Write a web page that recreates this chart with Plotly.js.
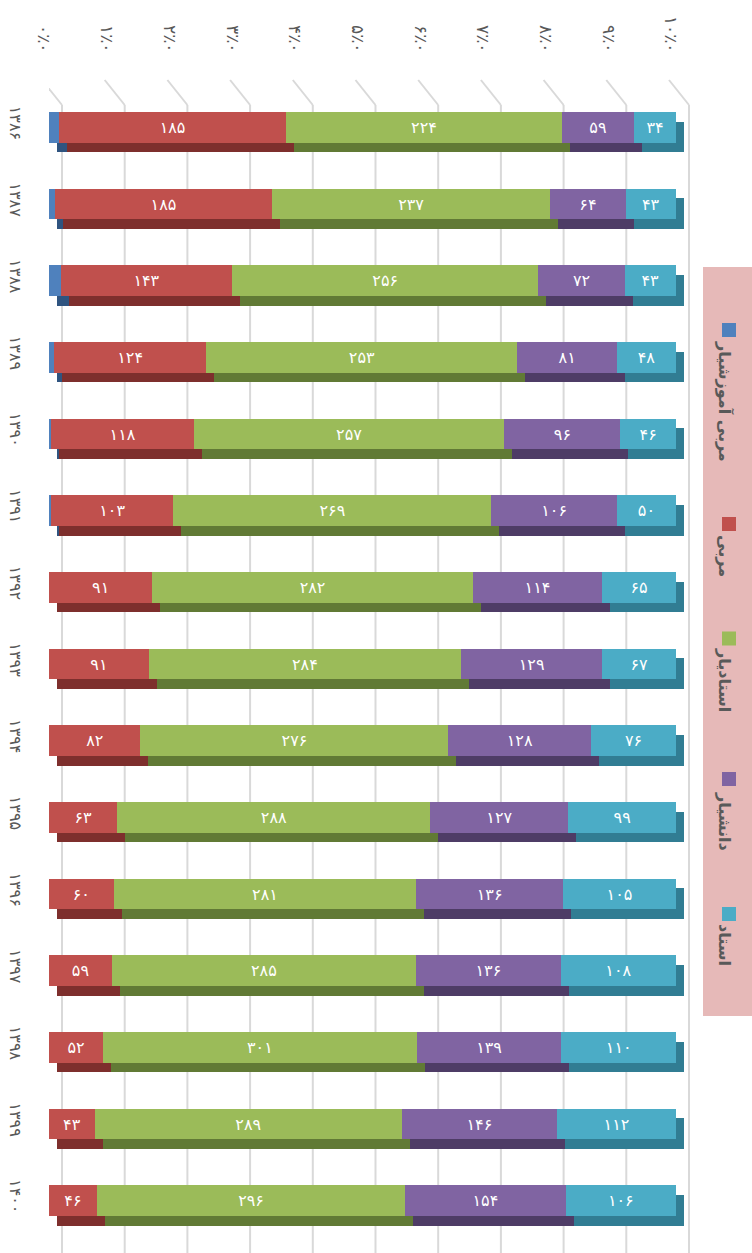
<!DOCTYPE html>
<html>
<head>
<meta charset="utf-8">
<script src="https://cdn.plot.ly/plotly-3.0.1.min.js"></script>
<style>
  html, body { margin: 0; padding: 0; background: #ffffff; }
  #chart { width: 752px; height: 1253px; }
</style>
</head>
<body>
<div id="chart"></div>
<script>
// ---- data ----
const years = ['۱۳۸۶','۱۳۸۷','۱۳۸۸','۱۳۸۹','۱۳۹۰','۱۳۹۱','۱۳۹۲','۱۳۹۳','۱۳۹۴','۱۳۹۵','۱۳۹۶','۱۳۹۷','۱۳۹۸','۱۳۹۹','۱۴۰۰'];
const morabiAmoozeshyar = [8, 5, 10, 4, 2, 2, 0, 0, 0, 0, 0, 0, 0, 0, 0];
const morabi    = [185, 185, 143, 124, 118, 103, 91, 91, 82, 63, 60, 59, 52, 43, 46];
const ostadyar  = [224, 237, 256, 253, 257, 269, 282, 284, 276, 288, 281, 285, 301, 289, 296];
const daneshyar = [59, 64, 72, 81, 96, 106, 114, 129, 128, 127, 136, 136, 139, 146, 154];
const ostad     = [34, 43, 43, 48, 46, 50, 65, 67, 76, 99, 105, 108, 110, 112, 106];
const seriesNames = ['مربی آموزشیار', 'مربی', 'استادیار', 'دانشیار', 'استاد'];
const showLabels  = [false, true, true, true, true];
const tickVals   = [0, 10, 20, 30, 40, 50, 60, 70, 80, 90, 100];
const tickLabels = ['۰٪۰','۱٪۰','۲٪۰','۳٪۰','۴٪۰','۵٪۰','۶٪۰','۷٪۰','۸٪۰','۹٪۰','۱۰٪۰'];

// ---- styles ----
const faceColors = ['#4f81bd', '#c0504d', '#9bbb59', '#8064a2', '#4bacc6'];
const sideColors = ['#2f5480', '#7e2f2d', '#617a35', '#4e3c66', '#317d93'];
const FONT = 'DejaVu Sans';
const pxPerX = 627 / 100;        // px per percent
const pxPerCat = 1150 / 15;      // px per category
const depthX = 8, depthY = 9.5;  // 3D depth in px
const extraRight = 14;           // room for the side face of the last segment
const xMax = 100 + extraRight / pxPerX;

const allSeries = [morabiAmoozeshyar, morabi, ostadyar, daneshyar, ostad];
const toFa = n => String(n).replace(/\d/g, d => '۰۱۲۳۴۵۶۷۸۹'[d]);

const traces = [];
// depth faces: same bars on axes shifted by the 3D depth
allSeries.forEach((vals, i) => {
  traces.push({
    type: 'bar', orientation: 'h', x: vals, y: years,
    xaxis: 'x', yaxis: 'y', width: 0.4,
    marker: { color: sideColors[i], line: { width: 0 } },
    hoverinfo: 'skip', showlegend: false
  });
});
// front faces
allSeries.forEach((vals, i) => {
  traces.push({
    type: 'bar', orientation: 'h', x: vals, y: years,
    xaxis: 'x2', yaxis: 'y2', width: 0.4, name: seriesNames[i],
    marker: { color: faceColors[i], line: { width: 0 } },
    text: showLabels[i] ? vals.map(toFa) : vals.map(() => ''),
    textposition: 'inside', insidetextanchor: 'middle', textangle: 0,
    insidetextfont: { family: FONT, size: 16, color: '#ffffff' },
    constraintext: 'none', cliponaxis: false,
    showlegend: false
  });
});

// gridlines on the 3D back wall
const shapes = [];
const yTopPaper = 1 - (105 - 89) / 1150;
const ySlantTop = 1 + (89 - 80) / 1150;
tickVals.forEach(v => {
  shapes.push({ type: 'line', layer: 'below', xref: 'x2', xsizemode: 'pixel', xanchor: v,
    x0: 13, x1: 13, yref: 'paper', y0: -14 / 1150, y1: yTopPaper,
    line: { color: '#d9d9d9', width: 2 } });
  shapes.push({ type: 'line', layer: 'below', xref: 'x2', xsizemode: 'pixel', xanchor: v,
    x0: -7, x1: 13, yref: 'paper', y0: ySlantTop, y1: yTopPaper,
    line: { color: '#d9d9d9', width: 2 } });
});

// rotated legend: background, swatches, labels
const plotW = 627 + extraRight;
const px2x = X => (X - 49) / plotW;
const px2y = Y => 1 - (Y - 89) / 1150;
shapes.push({ type: 'rect', xref: 'paper', yref: 'paper', layer: 'above',
  x0: px2x(703), x1: px2x(753), y0: px2y(1016), y1: px2y(267),
  fillcolor: '#e6b9b8', line: { width: 0 } });
const swatchY = [330, 524, 638.5, 779, 914];
const labelY  = [402, 556, 680, 822, 945];
const annotations = [];
seriesNames.forEach((name, i) => {
  shapes.push({ type: 'rect', xref: 'paper', yref: 'paper', layer: 'above',
    x0: px2x(722), x1: px2x(736), y0: px2y(swatchY[i] + 7), y1: px2y(swatchY[i] - 7),
    fillcolor: faceColors[i], line: { width: 0 } });
  annotations.push({ xref: 'paper', yref: 'paper', x: px2x(725), y: px2y(labelY[i]),
    text: '<b>' + name + '</b>', showarrow: false, textangle: 90,
    xanchor: 'center', yanchor: 'middle',
    font: { family: FONT, size: 16, color: '#595959' } });
});

const layout = {
  width: 752, height: 1253,
  margin: { l: 49, r: 752 - 49 - plotW, t: 89, b: 14, pad: 0 },
  barmode: 'stack', barnorm: 'percent',
  showlegend: false,
  paper_bgcolor: '#ffffff', plot_bgcolor: 'rgba(0,0,0,0)',
  font: { family: FONT, color: '#595959', size: 16 },
  xaxis: { range: [-depthX / pxPerX, xMax - depthX / pxPerX], showgrid: false, zeroline: false,
    showticklabels: false, showline: false, ticks: '' },
  yaxis: { type: 'category', range: [14.5 - depthY / pxPerCat, -0.5 - depthY / pxPerCat],
    showgrid: false, zeroline: false, showticklabels: false, showline: false, ticks: '' },
  xaxis2: { overlaying: 'x', anchor: 'y2', side: 'top', range: [0, xMax],
    tickmode: 'array', tickvals: tickVals, ticktext: tickLabels, tickangle: 90,
    showgrid: false, zeroline: false, showline: false, ticks: '',
    ticklabelstandoff: 33, ticklabelshift: -5,
    tickfont: { family: FONT, size: 17, color: '#595959' } },
  yaxis2: { overlaying: 'y', anchor: 'x2', side: 'left', type: 'category', range: [14.5, -0.5],
    tickangle: 90, showgrid: false, zeroline: false, showline: false, ticks: '',
    ticklabelstandoff: 22, ticklabelshift: 2,
    tickfont: { family: FONT, size: 16, color: '#595959' } },
  shapes: shapes,
  annotations: annotations
};

Plotly.newPlot('chart', traces, layout, { displayModeBar: false, staticPlot: true });
</script>
</body>
</html>
